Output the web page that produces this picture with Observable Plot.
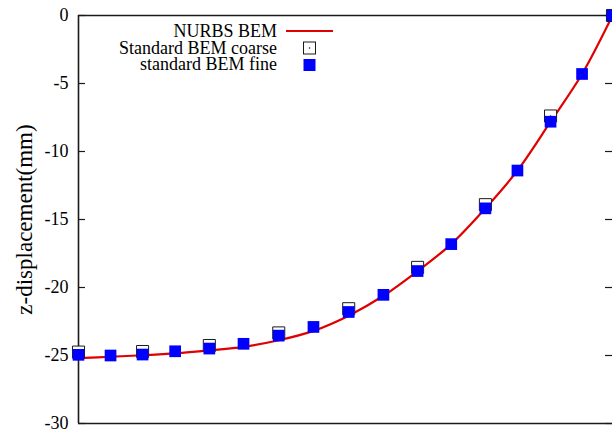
<!DOCTYPE html>
<html><head><meta charset="utf-8">
<script src="https://cdn.jsdelivr.net/npm/d3@7"></script>
<script src="https://cdn.jsdelivr.net/npm/@observablehq/plot@0.6"></script>
<style>
html,body{margin:0;padding:0;background:#fff;}
#chart{width:612px;height:431px;overflow:hidden;}
#chart svg text{font-family:"Liberation Serif","DejaVu Serif","Times New Roman",serif !important;}
</style>
</head><body><div id="chart"></div>
<script>
// ---- data ----
const xPos    = [0, 6.0, 12.0, 18.1, 24.5, 30.9, 37.5, 44.0, 50.6, 57.1, 63.5, 69.8, 76.2, 82.2, 88.4, 94.3, 100];
const nurbsZ  = [-25.2, -25.09, -24.98, -24.84, -24.62, -24.36, -23.88, -23.19, -22.07, -20.61, -18.79, -16.81, -14.18, -11.40, -7.81, -4.30, 0];
const fineZ   = [-24.95, -25.0, -24.93, -24.69, -24.49, -24.14, -23.54, -22.90, -21.80, -20.54, -18.79, -16.81, -14.18, -11.40, -7.81, -4.30, 0];
const coarseX = [0, 12.0, 24.5, 37.5, 50.6, 63.5, 76.2, 88.4, 100];
const coarseZ = [-24.75, -24.71, -24.27, -23.34, -21.56, -18.52, -13.91, -7.39, 0];
const yTicks  = [0, -5, -10, -15, -20, -25, -30];
const seriesNames = ["NURBS BEM", "Standard BEM coarse", "standard BEM fine"];
const yLabel = "z-displacement(mm)";

const nurbs = xPos.map((x, i) => ({x, z: nurbsZ[i]}));
const fine = xPos.map((x, i) => ({x, z: fineZ[i]}));
const coarse = coarseX.map((x, i) => ({x, z: coarseZ[i]}));

const W = 612, H = 431, ML = 78, MR = 0, MT = 15, MB = 8;
const frameW = W - ML - MR;
const FONT = "Liberation Serif, DejaVu Serif, Times New Roman, serif";
const RED = "#e00000", BLUE = "#0000ff", INK = "#1a1a1a";

const chart = Plot.plot({
  width: W, height: H,
  marginLeft: ML, marginRight: MR, marginTop: MT, marginBottom: MB,
  style: {fontFamily: FONT, fontSize: "18px", background: "white", color: "black", overflow: "hidden"},
  x: {domain: [0, 100], axis: null},
  y: {domain: [-30, 0], axis: null},
  marks: [
    Plot.axisY(yTicks, {anchor: "left", tickSize: 0, tickPadding: 10, tickFormat: d => String(d), fontSize: 18, label: null}),
    Plot.tickY(yTicks, {y: d => d, stroke: INK, strokeWidth: 1.2, insetRight: frameW - 7}),
    Plot.tickY(yTicks, {y: d => d, stroke: INK, strokeWidth: 1.2, insetLeft: frameW - 7}),
    Plot.ruleY([0, -30], {stroke: INK, strokeWidth: 1.6}),
    Plot.ruleX([0], {stroke: INK, strokeWidth: 1.6}),
    Plot.text([yLabel], {frameAnchor: "left", textAnchor: "middle", dx: -54, rotate: -90, fontSize: 23, fill: "black"}),
    Plot.line(nurbs, {x: "x", y: "z", stroke: RED, strokeWidth: 2.2, curve: "catmull-rom"}),
    Plot.dot(coarse, {x: "x", y: "z", symbol: "square", r: 6.8, fill: "white", stroke: INK, strokeWidth: 1}),
    Plot.dot(coarse, {x: "x", y: "z", r: 0.8, fill: INK}),
    Plot.dot(fine, {x: "x", y: "z", symbol: "square", r: 6.6, fill: BLUE})
  ]
});
document.getElementById("chart").appendChild(chart);

// ---- legend (inside the plot area, top left) ----
const svg = d3.select(chart);
const lg = svg.append("g").attr("font-size", 18).attr("fill", "black");
const textRight = 277, symX = 309.5, rows = [37, 53.5, 70];
seriesNames.forEach((name, i) => {
  lg.append("text").attr("x", textRight).attr("y", rows[i]).attr("text-anchor", "end").text(name);
});
lg.append("line").attr("x1", 286).attr("x2", 333).attr("y1", 31).attr("y2", 31)
  .attr("stroke", RED).attr("stroke-width", 2.2);
lg.append("rect").attr("x", symX - 6).attr("y", 48 - 6).attr("width", 12).attr("height", 12)
  .attr("fill", "white").attr("stroke", INK).attr("stroke-width", 1);
lg.append("circle").attr("cx", symX).attr("cy", 48).attr("r", 0.8).attr("fill", INK);
lg.append("rect").attr("x", symX - 6).attr("y", 65 - 6).attr("width", 12).attr("height", 12)
  .attr("fill", BLUE);
</script>
</body></html>
